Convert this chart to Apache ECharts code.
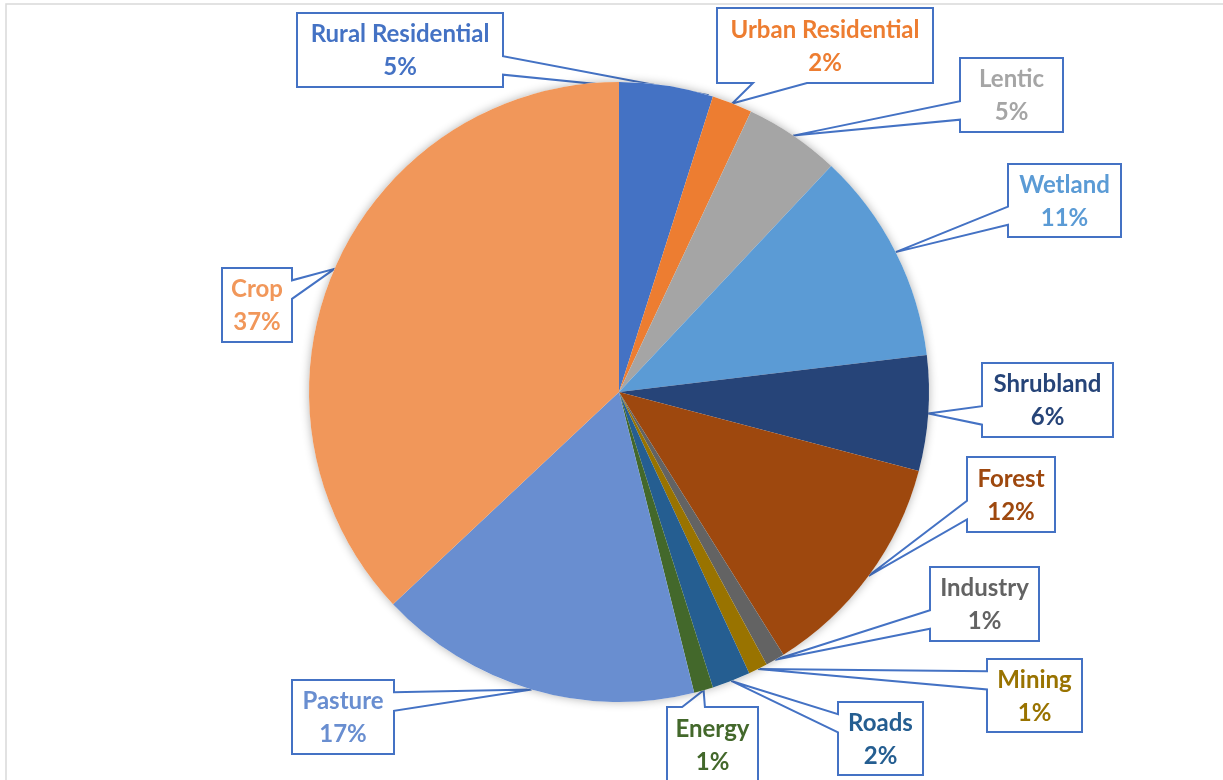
<!DOCTYPE html>
<html>
<head>
<meta charset="utf-8">
<script src="https://cdn.jsdelivr.net/npm/echarts@6/dist/echarts.min.js"></script>
<style>
html,body{margin:0;padding:0;background:#fff;}
#chart{width:1223px;height:780px;}
</style>
</head>
<body>
<div id="chart"></div>
<script>
// ---- data ----
const categories = ['Rural Residential','Urban Residential','Lentic','Wetland','Shrubland','Forest','Industry','Mining','Roads','Energy','Pasture','Crop'];
const shares = [4.9, 2.1, 5.0, 11.1, 6.0, 12.0, 1.0, 1.0, 2.0, 1.0, 16.9, 37.0];
const colors = ['#4472C4','#ED7D31','#A5A5A5','#5B9BD5','#264478','#9E480E','#636363','#997300','#255E91','#43682B','#698ED0','#F1975A'];

// ---- callout layout (left, top, right, bottom of each label box) ----
const calloutBoxes = [
  [297, 13, 503, 87],
  [717, 8, 933, 83],
  [960, 58, 1063, 132],
  [1008, 164, 1121, 237],
  [982, 363, 1113, 437],
  [967, 457, 1055, 532],
  [930, 567, 1039, 641],
  [987, 659, 1082, 732],
  [838, 702, 923, 775],
  [667, 707, 758, 783],
  [292, 680, 394, 754],
  [222, 268, 292, 342]
];
const tipShiftDeg = [8, 0, 0, 0, 0, 0, 0, 0, 0, 0, 0, 0];
const PIE_CENTER = [619, 392];
const PIE_RADIUS = 310;
const CALLOUT_COLOR = '#4472C4';

function calloutPath(b, tip) {
  const x0 = b[0], y0 = b[1], x1 = b[2], y1 = b[3];
  const w = x1 - x0, h = y1 - y0;
  const hc = (x0 + x1) / 2, vc = (y0 + y1) / 2;
  const dxPos = tip[0] - hc, dyPos = tip[1] - vc;
  const dx = dxPos * h, dy = dyPos * w;
  const xa = x0 + w * (dxPos > 0 ? 7 : 2) / 12, xb = x0 + w * (dxPos > 0 ? 10 : 5) / 12;
  const ya = y0 + h * (dyPos > 0 ? 7 : 2) / 12, yb = y0 + h * (dyPos > 0 ? 10 : 5) / 12;
  let side;
  if (Math.abs(dx) > Math.abs(dy)) side = dxPos > 0 ? 'right' : 'left';
  else side = dyPos > 0 ? 'bottom' : 'top';
  const pts = [[x0, y0]];
  if (side === 'top') pts.push([xa, y0], tip, [xb, y0]);
  pts.push([x1, y0]);
  if (side === 'right') pts.push([x1, ya], tip, [x1, yb]);
  pts.push([x1, y1]);
  if (side === 'bottom') pts.push([xb, y1], tip, [xa, y1]);
  pts.push([x0, y1]);
  if (side === 'left') pts.push([x0, yb], tip, [x0, ya]);
  pts.push([x0, y0], pts[1]);
  return pts;
}

const pieData = categories.map((name, i) => ({
  name: name,
  value: shares[i],
  itemStyle: { color: colors[i] },
  label: { color: colors[i] }
}));
const total = shares.reduce((a, b) => a + b, 0);

const chart = echarts.init(document.getElementById('chart'), null, { renderer: 'canvas' });
chart.setOption({
  backgroundColor: '#ffffff',
  animation: false,
  graphic: [{
    type: 'rect',
    silent: true,
    shape: { x: 6, y: 4, width: 1400, height: 900 },
    style: { fill: 'none', stroke: '#d9d9d9', lineWidth: 1.5 }
  }],
  series: [
    {
      type: 'pie',
      silent: true,
      center: PIE_CENTER,
      radius: PIE_RADIUS,
      data: [{ value: total, name: 'total' }],
      label: { show: false },
      labelLine: { show: false },
      itemStyle: { color: '#ffffff', shadowBlur: 10, shadowColor: 'rgba(0,0,0,0.3)' },
      emphasis: { disabled: true }
    },
    {
      type: 'pie',
      center: PIE_CENTER,
      radius: PIE_RADIUS,
      startAngle: 90,
      clockwise: true,
      avoidLabelOverlap: false,
      data: pieData,
      itemStyle: { borderWidth: 0 },
      emphasis: { disabled: true },
      label: {
        show: true,
        position: 'outside',
        fontFamily: 'Lato',
        fontWeight: 'bold',
        fontSize: 24,
        lineHeight: 33,
        align: 'center',
        formatter: p => p.name + '\n' + Math.round(p.value) + '%'
      },
      labelLine: {
        show: true,
        length: 20,
        length2: 20,
        lineStyle: { color: CALLOUT_COLOR, width: 2 }
      },
      labelLayout: function (p) {
        const i = p.dataIndex;
        const b = calloutBoxes[i];
        const cx = (b[0] + b[2]) / 2, cy = (b[1] + b[3]) / 2;
        let tip = p.labelLinePoints && p.labelLinePoints[0] ? p.labelLinePoints[0].slice() : [cx, cy];
        const sh = tipShiftDeg[i];
        if (sh) {
          const t = sh * Math.PI / 180;
          const vx = tip[0] - PIE_CENTER[0], vy = tip[1] - PIE_CENTER[1];
          tip = [PIE_CENTER[0] + vx * Math.cos(t) - vy * Math.sin(t),
                 PIE_CENTER[1] + vx * Math.sin(t) + vy * Math.cos(t)];
        }
        return {
          x: cx,
          y: cy + 1,
          align: 'center',
          verticalAlign: 'middle',
          labelLinePoints: calloutPath(b, tip)
        };
      }
    }
  ]
});
</script>
</body>
</html>
